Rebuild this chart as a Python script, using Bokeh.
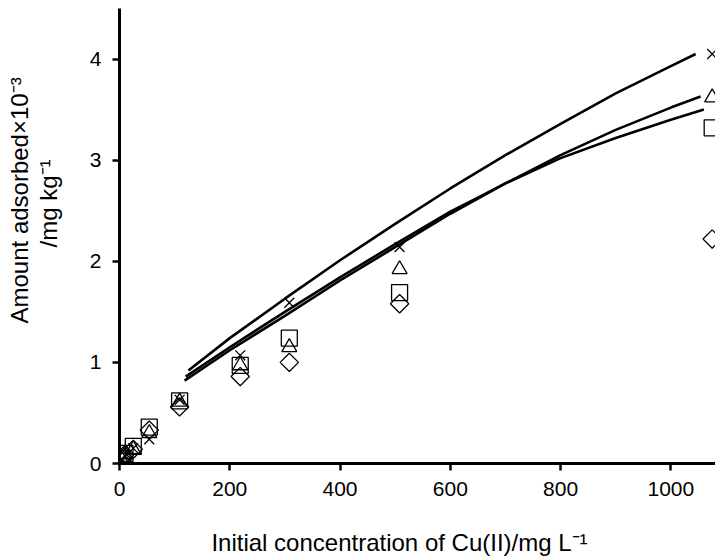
import math
from bokeh.plotting import figure
from bokeh.models import Range1d, FixedTicker, Title
from bokeh.embed import file_html
from bokeh.resources import INLINE

# measured data (initial concentration, mg/L) and amount adsorbed (x10^-3 mg/kg)
conc = [5, 10, 25, 54, 109, 219, 308, 508, 1075]
ads_cross = [0.04, 0.08, 0.15, 0.24, 0.63, 1.07, 1.59, 2.14, 4.05]
ads_triangle = [0.03, 0.09, 0.14, 0.30, 0.61, 0.97, 1.15, 1.92, 3.62]
ads_square = [0.05, 0.10, 0.17, 0.36, 0.62, 0.97, 1.24, 1.69, 3.32]
ads_diamond = [0.04, 0.09, 0.14, 0.33, 0.56, 0.86, 1.00, 1.58, 2.22]

# fitted curves
fit_top_x = [125, 200, 300, 400, 500, 600, 700, 800, 900, 1000, 1045]
fit_top_y = [0.92, 1.24, 1.63, 2.01, 2.37, 2.72, 3.05, 3.36, 3.66, 3.93, 4.05]
fit_mid_x = [118, 200, 300, 400, 500, 600, 650, 700, 800, 900, 1000, 1054]
fit_mid_y = [0.82, 1.12, 1.46, 1.81, 2.14, 2.47, 2.62, 2.77, 3.05, 3.30, 3.52, 3.63]
fit_low_x = [120, 200, 300, 400, 500, 600, 650, 700, 800, 900, 1000, 1060]
fit_low_y = [0.86, 1.15, 1.50, 1.84, 2.17, 2.49, 2.63, 2.77, 3.02, 3.22, 3.40, 3.50]

x_ticks = [0, 200, 400, 600, 800, 1000]
y_ticks = [0, 1, 2, 3, 4]

x_title = "Initial concentration of Cu(II)/mg L\u207b\u00b9"
y_title_1 = "Amount adsorbed\u00d710\u207b\u00b3"
y_title_2 = "/mg kg\u207b\u00b9"

FONT = "Liberation Sans"

p = figure(width=715, height=560, output_backend="svg", toolbar_location=None,
           x_range=Range1d(0, 1081), y_range=Range1d(0, 4.5),
           min_border_left=119, min_border_right=0, min_border_top=8,
           min_border_bottom=97)
p.outline_line_color = None
p.xgrid.visible = False
p.ygrid.visible = False
p.background_fill_color = "white"
p.border_fill_color = "white"

for ax, ticks in ((p.xaxis[0], x_ticks), (p.yaxis[0], y_ticks)):
    ax.ticker = FixedTicker(ticks=ticks)
    ax.axis_line_width = 3
    ax.axis_line_color = "black"
    ax.major_tick_line_width = 2.5
    ax.major_tick_line_color = "black"
    ax.major_tick_in = 0
    ax.major_tick_out = 7
    ax.minor_tick_line_color = None
    ax.major_label_text_font = FONT
    ax.major_label_text_font_size = "21px"
    ax.major_label_text_color = "black"
    ax.major_label_standoff = 11

# x axis title: the trailing en/em spaces move the centred text left
xa = p.xaxis[0]
xa.axis_label = x_title + "\u2003\u2002"
xa.axis_label_text_font = FONT
xa.axis_label_text_font_size = "24px"
xa.axis_label_text_font_style = "normal"
xa.axis_label_text_color = "black"
xa.axis_label_standoff = 30

# fitted curves
for xs, ys in ((fit_top_x, fit_top_y), (fit_mid_x, fit_mid_y), (fit_low_x, fit_low_y)):
    p.line(xs, ys, line_color="black", line_width=2.6)

# markers
p.scatter(conc, ads_square, marker="square", size=16, fill_color=None,
          line_color="black", line_width=1.3)
p.scatter(conc, ads_diamond, marker="square", size=13, angle=math.pi / 4,
          fill_color=None, line_color="black", line_width=1.3)
p.scatter(conc, ads_triangle, marker="triangle", size=15, fill_color=None,
          line_color="black", line_width=1.3)
p.scatter(conc, ads_cross, marker="x", size=14, fill_color=None,
          line_color="black", line_width=1.3)


def make_title(text, offset, standoff):
    return Title(text=text, align="left", offset=offset, standoff=standoff,
                 text_font=FONT, text_font_size="24px",
                 text_font_style="normal", text_color="black")

# y axis titles: second line nearest the axis, first line further out
p.add_layout(make_title(y_title_2, 216, 50), "left")
p.add_layout(make_title(y_title_1, 140, -50), "left")

open("out.html", "w").write(file_html(p, INLINE))
